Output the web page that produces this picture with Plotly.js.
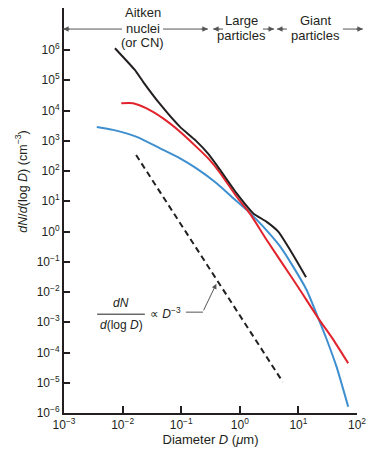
<!DOCTYPE html>
<html>
<head>
<meta charset="utf-8">
<script src="https://cdn.plot.ly/plotly-3.0.1.min.js"></script>
<style>html,body{margin:0;padding:0;background:#fff;}#chart{width:368px;height:450px;}</style>
</head>
<body>
<div id="chart"></div>
<script>
// Diameters (µm) and dN/d(log D) (cm^-3)
const blackD = [0.0074, 0.0162, 0.0224, 0.0437, 0.0955, 0.174, 0.295, 0.457, 0.885, 1.70, 2.88, 4.57, 7.24, 13.5];
const blackN = [1.15e6, 2.2e5, 8.9e4, 1.62e4, 2880, 1050, 355, 112, 18.2, 3.98, 2.09, 0.977, 0.245, 0.031];

const redD = [0.0095, 0.0151, 0.0257, 0.049, 0.0955, 0.182, 0.295, 0.457, 0.885, 1.48, 2.88, 5.6, 10, 21.9, 39.8, 70.8];
const redN = [17400, 17400, 11700, 5500, 2000, 630, 251, 89, 14.1, 3.98, 0.525, 0.076, 0.0141, 0.00135, 2.57e-4, 4.4e-5];

const blueD = [0.00363, 0.0069, 0.0174, 0.0437, 0.0955, 0.182, 0.407, 0.776, 1.32, 2.51, 4.9, 8.13, 13.8, 21.9, 30.2, 44.7, 70.8];
const blueN = [2880, 2290, 1350, 562, 263, 123, 38.9, 12.6, 5.1, 1.45, 0.316, 0.069, 0.0117, 0.00135, 2.8e-4, 3.4e-5, 1.6e-6];

const slopeD = [0.017, 5.4];
const slopeN = [339, 1.07e-5];

const xTickVals = [0.001, 0.01, 0.1, 1, 10, 100];
const xTickText = ['10<sup>−3</sup>', '10<sup>−2</sup>', '10<sup>−1</sup>', '10<sup>0</sup>', '10<sup>1</sup>', '10<sup>2</sup>'];
const yTickVals = [1e-6, 1e-5, 1e-4, 1e-3, 1e-2, 1e-1, 1, 10, 100, 1e3, 1e4, 1e5, 1e6];
const yTickText = ['10<sup>−6</sup>', '10<sup>−5</sup>', '10<sup>−4</sup>', '10<sup>−3</sup>', '10<sup>−2</sup>', '10<sup>−1</sup>',
  '10<sup>0</sup>', '10<sup>1</sup>', '10<sup>2</sup>', '10<sup>3</sup>', '10<sup>4</sup>', '10<sup>5</sup>', '10<sup>6</sup>'];

const ink = '#231f20';
const gray = '#555555';
const FONT = 'Liberation Sans, Arial, Helvetica, sans-serif';

const traces = [
  {x: blueD, y: blueN, mode: 'lines', line: {color: '#3e8fd0', width: 2, shape: 'spline', smoothing: 0.6}},
  {x: redD, y: redN, mode: 'lines', line: {color: '#e3232b', width: 2, shape: 'spline', smoothing: 0.6}},
  {x: blackD, y: blackN, mode: 'lines', line: {color: ink, width: 2, shape: 'spline', smoothing: 0.4}},
  {x: slopeD, y: slopeN, mode: 'lines', line: {color: ink, width: 2, dash: '6px,4px'}}
];

const ARROW_Y = 0.948;
// horizontal guide segments (paper x)
const segs = [[-0.003, 0.198], [0.338, 0.491], [0.509, 0.543], [0.679, 0.717], [0.727, 0.761], [0.952, 1.020]];
// arrowheads: [head x, direction] (-1 points left, +1 points right)
const heads = [[-0.003, -1], [0.491, 1], [0.509, -1], [0.717, 1], [0.727, -1], [1.020, 1]];

function txt(x, y, text, size, extra) {
  return Object.assign({xref: 'paper', yref: 'paper', x: x, y: y, xanchor: 'center', yanchor: 'middle',
    showarrow: false, text: text, font: {size: size, color: ink}}, extra || {});
}

const annotations = [
  txt(-0.145, 0.57, '<i>dN</i>/<i>d</i>(log <i>D</i>) (cm<sup>−3</sup>)', 12.5, {textangle: -90}),
  txt(0.195, 0.272, '<i>dN</i>', 12),
  txt(0.195, 0.217, '<i>d</i>(log <i>D</i>)', 12),
  txt(0.287, 0.247, '∝ <i>D</i><sup>−3</sup>', 12, {xanchor: 'left'}),
  {xref: 'paper', yref: 'paper', x: 0.520, y: 0.319, ax: -13.5, ay: 28, text: '', showarrow: true,
    arrowhead: 2, arrowsize: 1, arrowwidth: 1, arrowcolor: gray},
  txt(0.268, 0.9877, 'Aitken', 13),
  txt(0.268, 0.9506, 'nuclei', 13),
  txt(0.268, 0.9136, '(or CN)', 13),
  txt(0.607, 0.968, 'Large', 13),
  txt(0.607, 0.933, 'particles', 13),
  txt(0.860, 0.968, 'Giant', 13),
  txt(0.860, 0.933, 'particles', 13)
];
heads.forEach(h => annotations.push({xref: 'paper', yref: 'paper', x: h[0], y: ARROW_Y, ax: -h[1] * 8, ay: 0,
  text: '', showarrow: true, arrowhead: 2, arrowsize: 1.1, arrowwidth: 1, arrowcolor: gray}));

const shapes = [
  {type: 'line', xref: 'paper', yref: 'paper', x0: 0.113, x1: 0.276, y0: 0.244, y1: 0.244, line: {color: ink, width: 1}},
  {type: 'line', xref: 'paper', yref: 'paper', x0: 0.416, x1: 0.474, y0: 0.249, y1: 0.249, line: {color: gray, width: 1}}
];
segs.forEach(s => shapes.push({type: 'line', xref: 'paper', yref: 'paper', x0: s[0], x1: s[1], y0: ARROW_Y, y1: ARROW_Y,
  line: {color: gray, width: 1}}));

const layout = {
  width: 368, height: 450,
  margin: {l: 64, r: 11, t: 8, b: 37},
  paper_bgcolor: '#fff', plot_bgcolor: '#fff',
  showlegend: false,
  font: {family: FONT, size: 12, color: ink},
  xaxis: {type: 'log', range: [-3, 2], tickvals: xTickVals, ticktext: xTickText,
    ticks: 'inside', ticklen: 7, tickwidth: 2, tickcolor: ink,
    showline: true, linewidth: 2, linecolor: ink, showgrid: false, zeroline: false,
    tickfont: {size: 12, color: ink},
    title: {text: 'Diameter <i>D</i> (<i>μ</i>m)', font: {size: 13, color: ink}, standoff: 3}},
  yaxis: {type: 'log', range: [-6, 7.39], tickvals: yTickVals, ticktext: yTickText,
    ticks: 'inside', ticklen: 6, tickwidth: 2, tickcolor: ink,
    showline: true, linewidth: 2, linecolor: ink, showgrid: false, zeroline: false,
    tickfont: {size: 12, color: ink}},
  shapes: shapes,
  annotations: annotations
};

Plotly.newPlot('chart', traces, layout, {displayModeBar: false, staticPlot: true});
</script>
</body>
</html>
